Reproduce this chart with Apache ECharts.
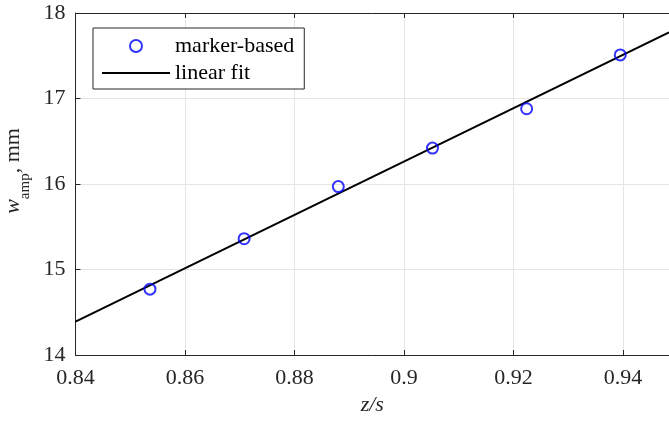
<!DOCTYPE html>
<html>
<head>
<meta charset="utf-8">
<script src="https://cdn.jsdelivr.net/npm/echarts@6/dist/echarts.min.js"></script>
<style>html,body{margin:0;padding:0;background:#fff}#c{width:669px;height:423px}</style>
</head>
<body>
<div id="c"></div>
<script>
// Data
const markerX = [0.8536, 0.8708, 0.8880, 0.9052, 0.9224, 0.9395];
const markerY = [14.77, 15.36, 15.97, 16.42, 16.88, 17.51];
const fitX = [0.84, 0.9484];
const fitY = [14.39, 17.774];
const xTicks = [0.84, 0.86, 0.88, 0.9, 0.92, 0.94];
const yTicks = [14, 15, 16, 17, 18];

const FONT = 'Liberation Serif';
const AX = '#262626';

const chart = echarts.init(document.getElementById('c'), null, {renderer: 'canvas'});
const scatterData = markerX.map((x, i) => [x, markerY[i]]);
const fitData = fitX.map((x, i) => [x, fitY[i]]);

chart.setOption({
  animation: false,
  backgroundColor: '#fff',
  grid: {left: 75.5, top: 13, right: 0, bottom: 68, containLabel: false, outerBoundsMode: 'none'},
  legend: {
    left: 93, top: 28, orient: 'vertical',
    backgroundColor: '#fff', borderColor: AX, borderWidth: 1, borderRadius: 0,
    padding: [7, 10, 5, 8], itemGap: 5, itemWidth: 68, itemHeight: 12,
    textStyle: {fontFamily: FONT, fontSize: 22, color: '#000', lineHeight: 22},
    data: ['marker-based', {name: 'linear fit', itemStyle: {opacity: 0}}]
  },
  xAxis: [{
    type: 'value', min: xTicks[0], max: fitX[1], interval: 0.02,
    name: 'z/s', nameLocation: 'middle', nameGap: 37,
    nameTextStyle: {fontFamily: FONT, fontSize: 22, fontStyle: 'italic', color: AX},
    axisLine: {show: true, lineStyle: {color: AX, width: 1}},
    axisTick: {show: true, inside: true, length: 5, lineStyle: {color: AX}},
    axisLabel: {fontFamily: FONT, fontSize: 22, color: AX, margin: 12, showMaxLabel: false},
    splitLine: {show: true, lineStyle: {color: '#e5e5e5', width: 1}}
  }, {
    type: 'value', position: 'top', min: xTicks[0], max: fitX[1], interval: 0.02,
    axisLine: {show: true, onZero: false, lineStyle: {color: AX, width: 1}},
    axisTick: {show: true, inside: true, length: 5, lineStyle: {color: AX}},
    axisLabel: {show: false}, splitLine: {show: false}
  }],
  yAxis: [{
    type: 'value', min: yTicks[0], max: yTicks[yTicks.length - 1], interval: 1,
    name: '{w|w}{sub|amp}{t|, mm}', nameLocation: 'middle', nameGap: 44, nameRotate: 90,
    nameTextStyle: {
      padding: [0, 0, 0, 26],
      rich: {
        w: {fontFamily: FONT, fontSize: 22, fontStyle: 'italic', color: AX, lineHeight: 24, verticalAlign: 'top'},
        sub: {fontFamily: FONT, fontSize: 15, color: AX, lineHeight: 15, padding: [15, 0, 0, 0], verticalAlign: 'top'},
        t: {fontFamily: FONT, fontSize: 22, color: AX, lineHeight: 24, verticalAlign: 'top'}
      }
    },
    axisLine: {show: true, lineStyle: {color: AX, width: 1}},
    axisTick: {show: true, inside: true, length: 5, lineStyle: {color: AX}},
    axisLabel: {fontFamily: FONT, fontSize: 22, color: AX, margin: 10},
    splitLine: {show: true, lineStyle: {color: '#e5e5e5', width: 1}}
  }],
  series: [{
    name: 'marker-based', type: 'scatter', xAxisIndex: 0, yAxisIndex: 0,
    symbol: 'circle', symbolSize: 11,
    itemStyle: {color: 'rgba(0,0,0,0)', borderColor: '#0000ff', borderWidth: 2},
    data: scatterData, z: 3
  }, {
    name: 'linear fit', type: 'line', xAxisIndex: 0, yAxisIndex: 0,
    symbol: 'none', showSymbol: false,
    lineStyle: {color: '#000', width: 2}, itemStyle: {color: '#000'},
    data: fitData, z: 2
  }]
});
</script>
</body>
</html>
